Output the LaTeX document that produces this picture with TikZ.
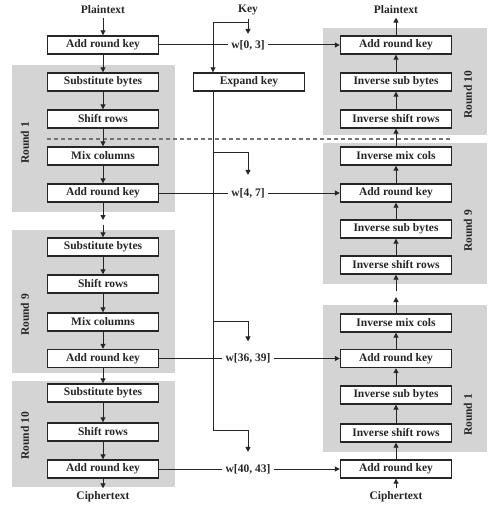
\documentclass[tikz,border=0pt]{standalone}
\usepackage{fontspec}
\setmainfont{Liberation Serif}
\usetikzlibrary{arrows.meta,positioning,calc}
\colorlet{aesGray}{black!17}
\colorlet{aesInk}{black!85}
\tikzset{
  >={Triangle[length=5bp,width=5bp]},
  font=\fontsize{11.5bp}{13bp}\selectfont\bfseries,
  stepbox/.style={
    draw=aesInk,
    fill=white,
    line width=1.4bp,
    minimum width=111bp,
    minimum height=18bp,
    inner sep=0pt,
    text=aesInk
  },
  roundpanel/.style={
    fill=aesGray,
    draw=none,
    inner sep=0pt
  },
  roundlab/.style={rotate=90, text=aesInk},
  keylab/.style={fill=white, inner sep=3bp, text=aesInk},
  flow/.style={->, line width=1bp, draw=aesInk},
  keyline/.style={line width=1bp, draw=aesInk},
  sepline/.style={line width=1.2bp, draw=black!55, dash pattern=on 4bp off 3bp}
}

\begin{document}
\begin{tikzpicture}[x=1bp,y=-1bp]
\useasboundingbox (0,0) rectangle (500,505);

% round panels
\node[roundpanel, minimum width=163bp, minimum height=147bp] (p1enc) at (93.5,138.5) {};
\node[roundpanel, minimum width=163bp, minimum height=143bp] (p9enc) at (93.5,301.5) {};
\node[roundpanel, minimum width=163bp, minimum height=106bp] (p10enc) at (93.5,434) {};
\node[roundpanel, minimum width=164bp, minimum height=107bp] (p10dec) at (405,81.5) {};
\node[roundpanel, minimum width=164bp, minimum height=141bp] (p9dec) at (405,213.5) {};
\node[roundpanel, minimum width=164bp, minimum height=147bp] (p1dec) at (405,378.5) {};

\node[roundlab] (r1encl) at (25,143) {Round 1};
\node[roundlab] (r9encl) at (25,315) {Round 9};
\node[roundlab] (r10encl) at (25,436) {Round 10};
\node[roundlab] (r10decl) at (468,95) {Round 10};
\node[roundlab] (r9decl) at (468,231) {Round 9};
\node[roundlab] (r1decl) at (468,415) {Round 1};

% encryption
\node[text=aesInk] (ptl) at (103,10) {Plaintext};
\node[stepbox] (ark0) at (103,45) {Add round key};
\node[stepbox] (sub1) at (103,82) {Substitute bytes};
\node[stepbox] (shift1) at (103,119) {Shift rows};
\node[stepbox] (mix1) at (103,156) {Mix columns};
\node[stepbox] (ark1) at (103,193) {Add round key};
\node[stepbox] (sub9) at (103,247) {Substitute bytes};
\node[stepbox] (shift9) at (103,284) {Shift rows};
\node[stepbox] (mix9) at (103,322) {Mix columns};
\node[stepbox] (ark9) at (103,358.5) {Add round key};
\node[stepbox] (sub10) at (103,393) {Substitute bytes};
\node[stepbox] (shift10) at (103,432) {Shift rows};
\node[stepbox] (ark10) at (103,469) {Add round key};
\node[text=aesInk] (ctl) at (103,497) {Ciphertext};

% decryption
\node[text=aesInk] (ptr) at (396,10) {Plaintext};
\node[stepbox] (dark10) at (396,45) {Add round key};
\node[stepbox] (isub10) at (396,82) {Inverse sub bytes};
\node[stepbox] (ishift10) at (396,119) {Inverse shift rows};
\node[stepbox] (imix9) at (396,156) {Inverse mix cols};
\node[stepbox] (dark9) at (396,193) {Add round key};
\node[stepbox] (isub9) at (396,229) {Inverse sub bytes};
\node[stepbox] (ishift9) at (396,265) {Inverse shift rows};
\node[stepbox] (imix1) at (396,323) {Inverse mix cols};
\node[stepbox] (dark1) at (396,358.5) {Add round key};
\node[stepbox] (isub1) at (396,395) {Inverse sub bytes};
\node[stepbox] (ishift1) at (396,433) {Inverse shift rows};
\node[stepbox] (dark0) at (396,469) {Add round key};
\node[text=aesInk] (ctr) at (396,497) {Ciphertext};

% key schedule
\node[text=aesInk] (key) at (248,10) {Key};
\node[stepbox] (expand) at (249,82) {Expand key};
\node[keylab] (w03) at (248,45) {w[0, 3]};
\node[keylab] (w47) at (248,193) {w[4, 7]};
\node[keylab] (w3639) at (248,358.5) {w[36, 39]};
\node[keylab] (w4043) at (248,469) {w[40, 43]};

\coordinate (spine) at (213,0);
\coordinate (ksplit) at (248,23);
\coordinate (tap1) at (213,153);
\coordinate (tap2) at (213,321);
\coordinate (tap3) at (213,430);
\coordinate (cut) at (0,139);

\draw[sepline] (shift1.west |- cut) -- (ishift10.east |- cut);

\draw[keyline] (key) -- (ksplit);
\draw[flow, shorten >=3bp] (ksplit) -- (w03);
\draw[flow] (ksplit) -| (expand.north -| spine);
\draw[flow, shorten >=9bp] (expand.south -| spine) -- (tap3) -| (w4043);
\draw[flow, shorten >=10bp] (tap1) -| (w47);
\draw[flow, shorten >=9bp] (tap2) -| (w3639);

\foreach \w/\a/\b in {w03/ark0/dark10, w47/ark1/dark9, w3639/ark9/dark1, w4043/ark10/dark0}
  \draw[flow] (\w) -- (\a) (\w) -- (\b);

% encryption flow
\foreach \a/\b in {ptl/ark0, ark0/sub1, sub1/shift1, shift1/mix1, mix1/ark1,
                   sub9/shift9, shift9/mix9, mix9/ark9, ark9/sub10,
                   sub10/shift10, shift10/ark10, ark10/ctl}
  \draw[flow] (\a) -- (\b);
\coordinate (skipA) at (103,220);
\coordinate (skipB) at (103,225);
\draw[flow] (ark1) -- (skipA);
\draw[flow] (skipB) -- (sub9);

% decryption flow
\foreach \a/\b in {ctr/dark0, dark0/ishift1, ishift1/isub1, isub1/dark1, dark1/imix1,
                   ishift9/isub9, isub9/dark9, dark9/imix9, imix9/ishift10,
                   ishift10/isub10, isub10/dark10, dark10/ptr}
  \draw[flow] (\a) -- (\b);
\coordinate (skipC) at (396,297);
\coordinate (skipD) at (396,291);
\draw[flow] (imix1) -- (skipC);
\draw[flow] (skipD) -- (ishift9);

\end{tikzpicture}
\end{document}
